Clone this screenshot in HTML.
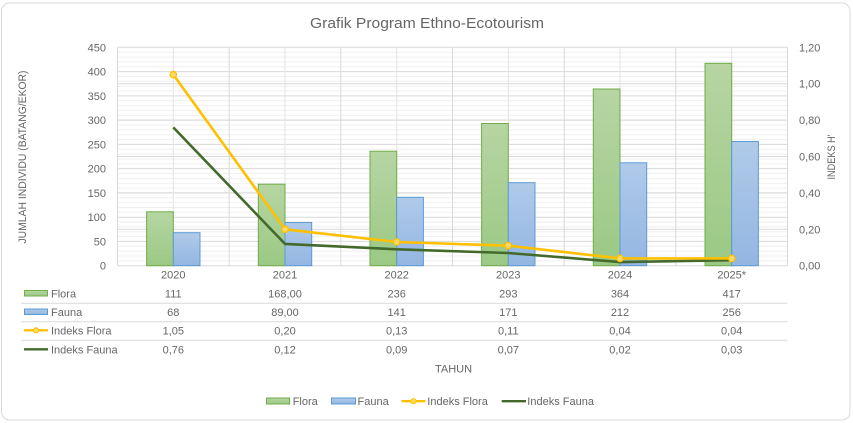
<!DOCTYPE html>
<html><head><meta charset="utf-8"><style>
html,body{margin:0;padding:0;background:#fff;}
svg{display:block;}
text{font-family:"Liberation Sans",Arial,sans-serif;fill:#666666;}
</style></head><body>
<svg width="853" height="423" viewBox="0 0 853 423" xmlns="http://www.w3.org/2000/svg">
<defs>
<linearGradient id="gf" x1="0" y1="0" x2="0" y2="1"><stop offset="0" stop-color="#b6d5a2"/><stop offset="1" stop-color="#9bc985"/></linearGradient>
<linearGradient id="gb" x1="0" y1="0" x2="0" y2="1"><stop offset="0" stop-color="#b0cae9"/><stop offset="1" stop-color="#93b6e2"/></linearGradient>
</defs>
<rect x="1.5" y="3" width="848.5" height="417" rx="8" fill="#fff" stroke="#d9d9d9" stroke-width="1"/>
<text x="427" y="28" font-size="15" text-anchor="middle" textLength="234" lengthAdjust="spacingAndGlyphs">Grafik Program Ethno-Ecotourism</text>

<g stroke="#efefef" stroke-width="1">
<path d="M117.5 260.85H787.5M117.5 256H787.5M117.5 251.1H787.5M117.5 246.3H787.5M117.5 236.6H787.5M117.5 231.7H787.5M117.5 226.9H787.5M117.5 222H787.5M117.5 212.3H787.5M117.5 207.5H787.5M117.5 202.6H787.5M117.5 197.8H787.5M117.5 188.1H787.5M117.5 183.2H787.5M117.5 178.4H787.5M117.5 173.5H787.5M117.5 163.8H787.5M117.5 159H787.5M117.5 154.1H787.5M117.5 149.3H787.5M117.5 139.6H787.5M117.5 134.7H787.5M117.5 129.9H787.5M117.5 125H787.5M117.5 115.3H787.5M117.5 110.4H787.5M117.5 105.6H787.5M117.5 100.7H787.5M117.5 91H787.5M117.5 86.2H787.5M117.5 81.3H787.5M117.5 76.5H787.5M117.5 66.8H787.5M117.5 61.9H787.5M117.5 57.1H787.5M117.5 52.2H787.5"/>
</g>
<g stroke="#d9d9d9" stroke-width="1">
<path d="M117.5 241.4H787.5M117.5 217.2H787.5M117.5 192.9H787.5M117.5 168.6H787.5M117.5 144.4H787.5M117.5 120.1H787.5M117.5 95.9H787.5M117.5 71.6H787.5M117.5 47.3H787.5"/>
<path d="M117.5 229.3H787.5M117.5 192.9H787.5M117.5 156.5H787.5M117.5 120.1H787.5M117.5 83.7H787.5"/>
</g>
<g stroke="#e3e3e3" stroke-width="1">
<path d="M173.3 47.3V265.7M285 47.3V265.7M396.7 47.3V265.7M508.3 47.3V265.7M620 47.3V265.7M731.7 47.3V265.7"/>
</g>
<g stroke="#d9d9d9" stroke-width="1">
<path d="M117.5 47.3V265.7M229.2 47.3V265.7M340.8 47.3V265.7M452.5 47.3V265.7M564.2 47.3V265.7M675.8 47.3V265.7M787.5 47.3V265.7"/>
<path d="M117.5 265.7H787.5"/>
</g>

<g stroke="#70ad47" stroke-width="1" fill="url(#gf)">
<rect x="146.6" y="211.8" width="26.7" height="53.9"/>
<rect x="258.3" y="184.2" width="26.7" height="81.5"/>
<rect x="370" y="151.2" width="26.7" height="114.5"/>
<rect x="481.6" y="123.5" width="26.7" height="142.2"/>
<rect x="593.3" y="89" width="26.7" height="176.7"/>
<rect x="705" y="63.3" width="26.7" height="202.4"/>
</g>
<g stroke="#5b9bd5" stroke-width="1" fill="url(#gb)">
<rect x="173.3" y="232.7" width="26.7" height="33"/>
<rect x="285" y="222.5" width="26.7" height="43.2"/>
<rect x="396.7" y="197.3" width="26.7" height="68.4"/>
<rect x="508.3" y="182.7" width="26.7" height="83"/>
<rect x="620" y="162.8" width="26.7" height="102.9"/>
<rect x="731.7" y="141.5" width="26.7" height="124.2"/>
</g>

<polyline points="173.3,127.4 285,243.9 396.7,249.3 508.3,253 620,262.1 731.7,260.2" fill="none" stroke="#43692b" stroke-width="2.6" stroke-linejoin="round"/>
<polyline points="173.3,74.6 285,229.3 396.7,242 508.3,245.7 620,258.4 731.7,258.4" fill="none" stroke="#ffc000" stroke-width="2.6" stroke-linejoin="round"/>
<g fill="#ffd966" stroke="#ffc000" stroke-width="1.2">
<circle cx="173.3" cy="74.6" r="3.2"/><circle cx="285" cy="229.3" r="3.2"/><circle cx="396.7" cy="242" r="3.2"/><circle cx="508.3" cy="245.7" r="3.2"/><circle cx="620" cy="258.4" r="3.2"/><circle cx="731.7" cy="258.4" r="3.2"/>
</g>

<g font-size="11" text-anchor="end">
<text x="106" y="51.3">450</text><text x="106" y="75.6">400</text><text x="106" y="99.9">350</text><text x="106" y="124.1">300</text><text x="106" y="148.4">250</text><text x="106" y="172.6">200</text><text x="106" y="196.9">150</text><text x="106" y="221.2">100</text><text x="106" y="245.4">50</text><text x="106" y="269.7">0</text>
</g>
<g font-size="11">
<text x="799" y="51.3">1,20</text><text x="799" y="87.7">1,00</text><text x="799" y="124.1">0,80</text><text x="799" y="160.5">0,60</text><text x="799" y="196.9">0,40</text><text x="799" y="233.3">0,20</text><text x="799" y="269.7">0,00</text>
</g>
<text transform="translate(26,157) rotate(-90)" font-size="11" text-anchor="middle" textLength="173" lengthAdjust="spacingAndGlyphs">JUMLAH INDIVIDU (BATANG/EKOR)</text>
<text transform="translate(835,157) rotate(-90)" font-size="11" text-anchor="middle" textLength="45" lengthAdjust="spacingAndGlyphs">INDEKS H'</text>

<g font-size="11" text-anchor="middle">
<text x="173.3" y="278.3">2020</text><text x="285" y="278.3">2021</text><text x="396.7" y="278.3">2022</text><text x="508.3" y="278.3">2023</text><text x="620" y="278.3">2024</text><text x="731.7" y="278.3">2025*</text>
<text x="173.3" y="297.3">111</text><text x="285" y="297.3">168,00</text><text x="396.7" y="297.3">236</text><text x="508.3" y="297.3">293</text><text x="620" y="297.3">364</text><text x="731.7" y="297.3">417</text>
<text x="173.3" y="316">68</text><text x="285" y="316">89,00</text><text x="396.7" y="316">141</text><text x="508.3" y="316">171</text><text x="620" y="316">212</text><text x="731.7" y="316">256</text>
<text x="173.3" y="334.3">1,05</text><text x="285" y="334.3">0,20</text><text x="396.7" y="334.3">0,13</text><text x="508.3" y="334.3">0,11</text><text x="620" y="334.3">0,04</text><text x="731.7" y="334.3">0,04</text>
<text x="173.3" y="353.3">0,76</text><text x="285" y="353.3">0,12</text><text x="396.7" y="353.3">0,09</text><text x="508.3" y="353.3">0,07</text><text x="620" y="353.3">0,02</text><text x="731.7" y="353.3">0,03</text>
</g>
<g stroke="#d9d9d9" stroke-width="1">
<path d="M21 303.3H787.5M21 321.7H787.5M21 340.3H787.5"/>
</g>
<rect x="24.5" y="290.5" width="23" height="5.5" fill="url(#gf)" stroke="#70ad47"/>
<rect x="24.5" y="309" width="23" height="5.5" fill="url(#gb)" stroke="#5b9bd5"/>
<path d="M24 330.3H48" stroke="#ffc000" stroke-width="2.4"/>
<circle cx="36" cy="330.3" r="2.6" fill="#ffd966" stroke="#ffc000" stroke-width="1"/>
<path d="M24 349.3H48" stroke="#43692b" stroke-width="2.4"/>
<g font-size="11">
<text x="51" y="297.3">Flora</text><text x="51" y="316">Fauna</text><text x="51" y="334.3">Indeks Flora</text><text x="51" y="353.3">Indeks Fauna</text>
</g>
<text x="435" y="372.3" font-size="11">TAHUN</text>

<rect x="266.5" y="398" width="23" height="6" fill="url(#gf)" stroke="#70ad47"/>
<text x="292.7" y="405" font-size="11">Flora</text>
<rect x="331.5" y="398" width="24" height="6" fill="url(#gb)" stroke="#5b9bd5"/>
<text x="357.5" y="405" font-size="11">Fauna</text>
<path d="M401.5 401.2H425.5" stroke="#ffc000" stroke-width="2.4"/>
<circle cx="413.5" cy="401.2" r="2.6" fill="#ffd966" stroke="#ffc000" stroke-width="1"/>
<text x="427.3" y="405" font-size="11">Indeks Flora</text>
<path d="M501.7 401.2H526" stroke="#43692b" stroke-width="2.4"/>
<text x="527.3" y="405" font-size="11">Indeks Fauna</text>
</svg>
</body></html>
